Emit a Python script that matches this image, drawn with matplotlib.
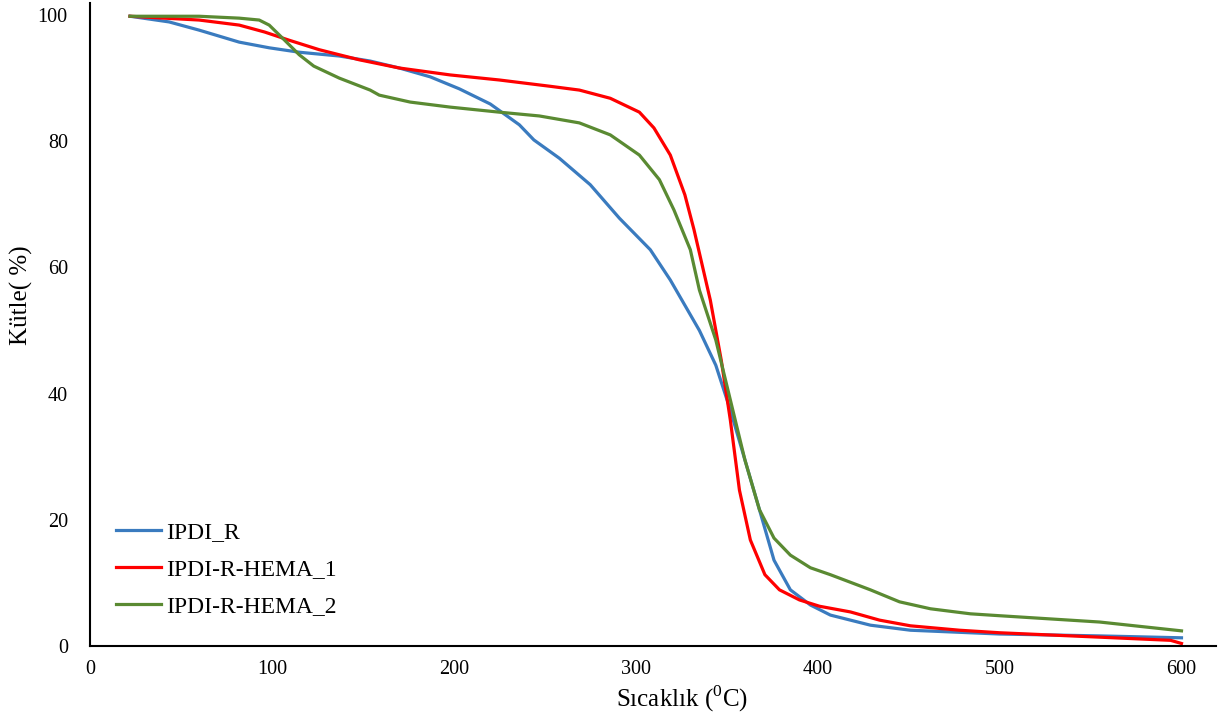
import numpy as np
import matplotlib
matplotlib.use("Agg")
import matplotlib.pyplot as plt

plt.rcParams['font.family'] = ['Liberation Serif', 'DejaVu Serif']
plt.rcParams['mathtext.fontset'] = 'custom'
plt.rcParams['mathtext.rm'] = 'Liberation Serif'

# TGA curves: temperature (C) vs remaining mass (%)
t_ipdi_r = [22, 43.5, 60, 82, 98.5, 115, 137, 154, 170, 187, 203, 220, 236, 244, 258,
            275, 291, 308, 319, 335, 344, 352, 360, 368, 376, 385, 396, 407, 429, 451,
            500, 555, 600]
m_ipdi_r = [99.8, 98.9, 97.6, 95.7, 94.8, 94.1, 93.5, 92.7, 91.6, 90.2, 88.3, 85.9, 82.6,
            80.2, 77.3, 73.1, 67.8, 62.8, 58.0, 50.0, 44.5, 37.4, 29.5, 21.6, 13.6, 8.9,
            6.5, 4.9, 3.3, 2.5, 1.9, 1.6, 1.3]

t_hema1 = [22, 60, 82, 96, 109.5, 126, 148, 170, 198, 225, 253, 269, 286, 302, 310, 319,
           327, 332, 341, 347, 352, 357, 363, 371, 379, 390, 401, 418, 434, 451, 478, 500,
           555, 594, 600]
m_hema1 = [99.8, 99.2, 98.4, 97.3, 96.0, 94.5, 92.9, 91.6, 90.5, 89.7, 88.7, 88.1, 86.8,
           84.6, 82.1, 77.8, 71.5, 66.0, 54.8, 45.3, 35.8, 24.7, 16.8, 11.3, 8.9, 7.3,
           6.3, 5.4, 4.1, 3.2, 2.5, 2.1, 1.4, 0.9, 0.4]

t_hema2 = [22, 60, 82, 93, 98.5, 107, 115, 123, 137, 154, 159, 176, 198, 225, 247, 269,
           286, 302, 313, 321, 330, 335, 344, 352, 360, 368, 376, 385, 396, 407, 418, 429,
           445, 462, 484, 500, 555, 600]
m_hema2 = [99.8, 99.8, 99.5, 99.2, 98.4, 96.0, 93.7, 91.9, 90.0, 88.1, 87.3, 86.2, 85.4,
           84.6, 84.0, 82.9, 81.0, 77.8, 73.9, 69.1, 62.8, 56.4, 48.5, 39.0, 29.5, 21.6,
           17.1, 14.4, 12.4, 11.3, 10.1, 8.9, 7.0, 5.9, 5.1, 4.8, 3.8, 2.4]

fig = plt.figure(figsize=(12.18, 7.15), dpi=100)
ax = fig.add_axes([0.0739, 0.0965, 0.9245, 0.8993])

ax.plot(t_ipdi_r, m_ipdi_r, color='#3a7bbf', lw=2.3, label='IPDI_R')
ax.plot(t_hema1, m_hema1, color='#ff0000', lw=2.3, label='IPDI-R-HEMA_1')
ax.plot(t_hema2, m_hema2, color='#5a8a32', lw=2.3, label='IPDI-R-HEMA_2')

ax.set_xlim(0, 619)
ax.set_ylim(0, 101.9)
ax.set_xticks(np.arange(0, 601, 100))
ax.set_yticks(np.arange(0, 101, 20))
ax.tick_params(length=0, labelsize=14.5)
ax.tick_params(axis='y', pad=16)
ax.tick_params(axis='x', pad=10)

for s in ['top', 'right']:
    ax.spines[s].set_visible(False)
for s in ['left', 'bottom']:
    ax.spines[s].set_linewidth(1.5)

ax.set_xlabel('Sıcaklık ($^{0}$C)', fontsize=18)
ax.set_ylabel('Kütle( %)', fontsize=18)
ax.xaxis.set_label_coords(0.526, -0.058)
ax.yaxis.set_label_coords(-0.051, 0.545)

ax.legend(loc='lower left', bbox_to_anchor=(0.004, 0.012), frameon=False, fontsize=17,
          handlelength=1.9, handletextpad=0.25, labelspacing=0.66)

fig.savefig('out.png', dpi=100)
